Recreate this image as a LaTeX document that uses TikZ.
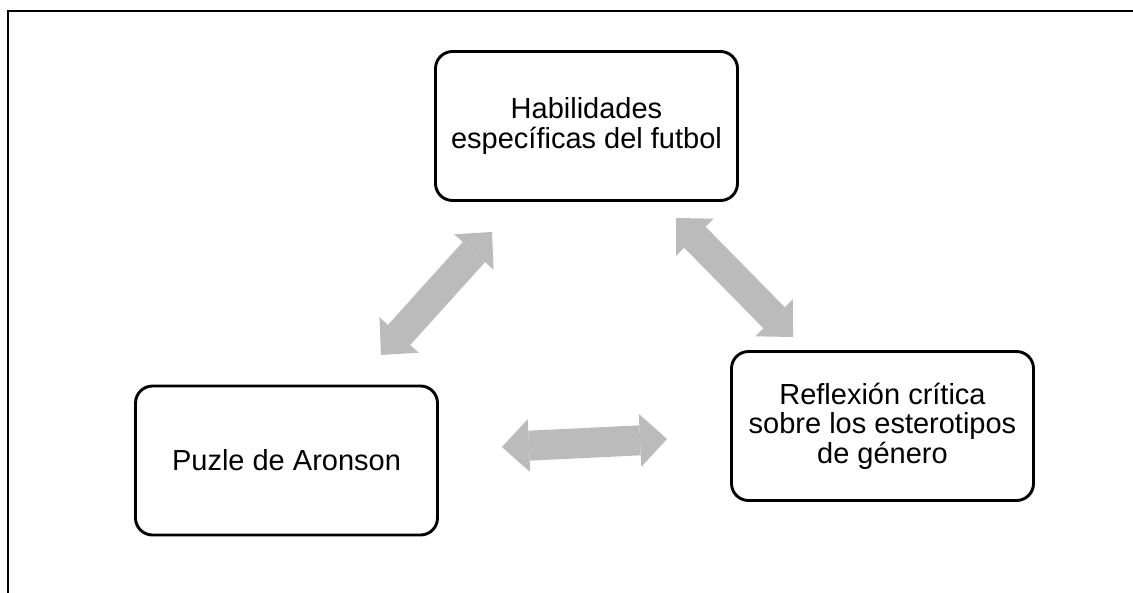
\documentclass[tikz,border=0pt]{standalone}
\usepackage{fontspec}
\setmainfont{Liberation Sans}
\usetikzlibrary{arrows.meta}
\definecolor{arrgray}{HTML}{BBBBBB}
\tikzset{
  box/.style={draw=black, line width=2.9pt, rounded corners=17pt, fill=white,
    minimum width=302pt, minimum height=149pt, align=center, inner sep=4pt,
    font=\fontsize{29}{29.5}\selectfont},
  darrow/.style={draw=arrgray, line width=30pt,
    {Triangle[width=53pt,length=27pt,line width=0pt]}-{Triangle[width=53pt,length=27pt,line width=0pt]}},
  frame/.style={draw=black, line width=2.6pt}
}
\begin{document}
\begin{tikzpicture}[x=1pt,y=-1pt]
\useasboundingbox (0,0) rectangle (1133,592);
\draw[frame] (1140,11) -- (8,11) -- (8,600);
\node[box] (top) at (586.5,126) {Habilidades\\específicas del futbol};
\node[box] (left) at (286.5,460.5) {Puzle de Aronson};
\node[box] (right) at (882.5,426) {Reflexión crítica\\sobre los esterotipos\\de género};
\coordinate (a1s) at (381,355);
\coordinate (a1e) at (492,232);
\coordinate (a2s) at (676,218);
\coordinate (a2e) at (793,337);
\coordinate (a3s) at (502,447);
\coordinate (a3e) at (667,439);
\draw[darrow] (a1s) -- (a1e);
\draw[darrow] (a2s) -- (a2e);
\draw[darrow] (a3s) -- (a3e);
\end{tikzpicture}
\end{document}
